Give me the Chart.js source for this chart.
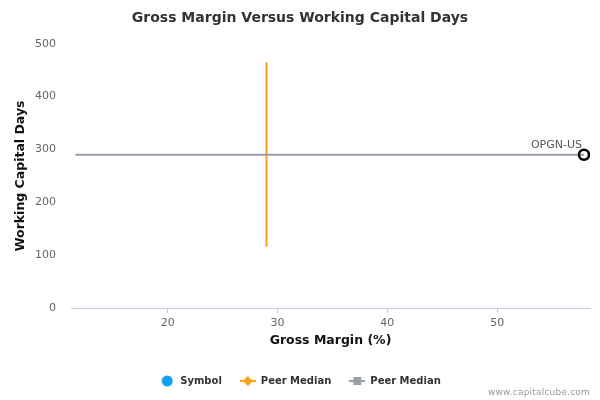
<!DOCTYPE html>
<html>
<head>
<meta charset="utf-8">
<script src="https://cdn.jsdelivr.net/npm/chart.js@4.4.0/dist/chart.umd.min.js"></script>
<style>
  html, body { margin: 0; padding: 0; background: #fff; }
  #wrap { position: relative; width: 600px; height: 400px; }
  #credit {
    position: absolute; right: 10px; top: 387px;
    font: 9px "DejaVu Sans", sans-serif; color: #999; letter-spacing: 0.2px;
  }
</style>
</head>
<body>
<div id="wrap">
  <canvas id="marginChart" width="600" height="400"></canvas>
  <div id="credit">www.capitalcube.com</div>
</div>
<script>
// data
const symbolNames = ["OPGN-US"];
const symbolGrossMargin = [57.9];
const symbolWcDays = [290];

const peerMedianGrossMargin = [29.0, 29.0];
const peerMedianGmSpan = [115.7, 465];   // vertical extent of the orange median line
const peerMedianWcDays = [290, 290];
const peerMedianWcSpan = [11.6, 57.9];   // horizontal extent of the grey median line

const xTickValues = [20, 30, 40, 50];
const yTickValues = [0, 100, 200, 300, 400, 500];
const legendNames = ["Symbol", "Peer Median", "Peer Median"];

const FONT = "'DejaVu Sans', sans-serif";

// little legend icons
function makeIcon(w, h, draw) {
  const c = document.createElement("canvas");
  c.width = w;
  c.height = h;
  draw(c.getContext("2d"));
  return c;
}
const legendIcons = [
  makeIcon(12, 12, (g) => {
    g.fillStyle = "#12A0F0";
    g.beginPath();
    g.arc(6, 6, 5.5, 0, Math.PI * 2);
    g.fill();
  }),
  makeIcon(16, 10, (g) => {
    g.fillStyle = "#F7A11A";
    g.fillRect(0, 4, 16, 2);
    g.beginPath();
    g.moveTo(8, 0); g.lineTo(13, 5); g.lineTo(8, 10); g.lineTo(3, 5);
    g.closePath();
    g.fill();
  }),
  makeIcon(16, 10, (g) => {
    g.fillStyle = "#9A9EA8";
    g.fillRect(0, 4, 16, 2);
    g.fillRect(4, 1, 8, 8);
  }),
];

// "OPGN-US" label next to the point
const pointLabels = {
  id: "pointLabels",
  afterDatasetsDraw(chart) {
    const { ctx, scales } = chart;
    ctx.save();
    ctx.font = "11px " + FONT;
    ctx.fillStyle = "#555";
    ctx.textAlign = "right";
    ctx.textBaseline = "middle";
    symbolNames.forEach((name, i) => {
      const px = scales.x.getPixelForValue(symbolGrossMargin[i]);
      const py = scales.y.getPixelForValue(symbolWcDays[i]);
      ctx.fillText(name, px - 2, py - 10);
    });
    ctx.restore();
  },
};

new Chart(document.getElementById("marginChart"), {
  type: "scatter",
  data: {
    datasets: [
      {
        label: legendNames[0],
        data: symbolGrossMargin.map((x, i) => ({ x: x, y: symbolWcDays[i] })),
        pointStyle: "circle",
        pointRadius: 5,
        pointBorderWidth: 2.5,
        pointBorderColor: "#000",
        pointBackgroundColor: "rgba(255,255,255,0)",
        order: 0,
      },
      {
        label: legendNames[1],
        data: peerMedianGrossMargin.map((x, i) => ({ x: x, y: peerMedianGmSpan[i] })),
        showLine: true,
        borderColor: "#F7A11A",
        borderWidth: 2,
        pointRadius: 0,
        order: 2,
      },
      {
        label: legendNames[2],
        data: peerMedianWcSpan.map((x, i) => ({ x: x, y: peerMedianWcDays[i] })),
        showLine: true,
        borderColor: "#9A9EA8",
        borderWidth: 2,
        pointRadius: 0,
        order: 1,
      },
    ],
  },
  options: {
    responsive: false,
    animation: false,
    layout: { padding: { left: 10, right: 10, top: 0, bottom: 4 } },
    plugins: {
      tooltip: { enabled: false },
      title: {
        display: true,
        text: "Gross Margin Versus Working Capital Days",
        color: "#333",
        font: { family: FONT, size: 14, weight: "bold" },
        padding: { top: 10, bottom: 17 },
      },
      legend: {
        position: "bottom",
        labels: {
          usePointStyle: true,
          pointStyleWidth: 16,
          padding: 18,
          color: "#333",
          font: { family: FONT, size: 10, weight: "bold" },
          generateLabels: () =>
            legendNames.map((text, i) => ({
              text: text,
              pointStyle: legendIcons[i],
              fontColor: "#333",
              datasetIndex: i,
              hidden: false,
              lineWidth: 0,
              strokeStyle: "transparent",
              fillStyle: "transparent",
            })),
        },
      },
    },
    scales: {
      x: {
        type: "linear",
        min: 11.2,
        max: 58.45,
        afterBuildTicks: (scale) => {
          scale.ticks = xTickValues.map((v) => ({ value: v }));
        },
        afterFit: (scale) => {
          scale.height = 50;
        },
        ticks: { color: "#666", padding: 4, font: { family: FONT, size: 11 } },
        grid: { drawOnChartArea: false, drawTicks: true, tickLength: 5, color: "#C0D0E0" },
        border: { display: true, color: "#C0D0E0", width: 1 },
        title: {
          display: true,
          text: "Gross Margin (%)",
          color: "#111",
          font: { family: FONT, size: 12.5, weight: "bold" },
          padding: { top: 0, bottom: 10 },
        },
      },
      y: {
        type: "linear",
        min: 0,
        max: 500,
        afterBuildTicks: (scale) => {
          scale.ticks = yTickValues.map((v) => ({ value: v }));
        },
        afterFit: (scale) => {
          scale.width = 61;
        },
        ticks: { color: "#666", padding: 15, font: { family: FONT, size: 11 } },
        grid: { display: false, drawTicks: false },
        border: { display: false },
        title: {
          display: true,
          text: "Working Capital Days",
          color: "#111",
          font: { family: FONT, size: 12.5, weight: "bold" },
          padding: { top: 3, bottom: 0 },
        },
      },
    },
  },
  plugins: [pointLabels],
});
</script>
</body>
</html>
